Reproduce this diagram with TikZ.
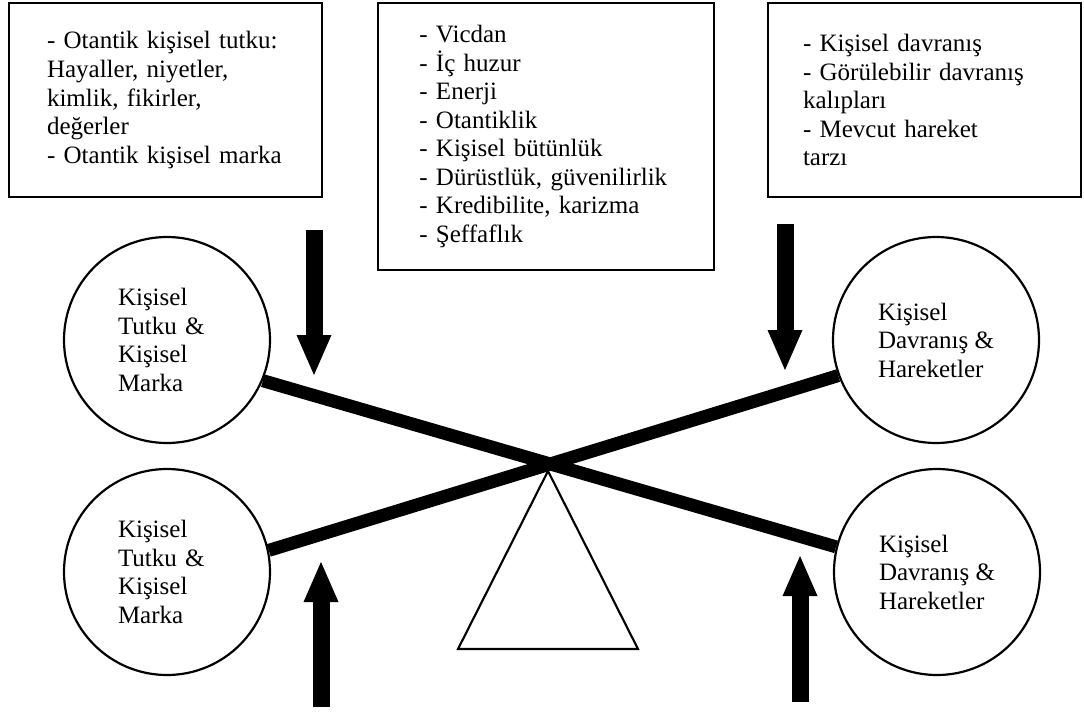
\documentclass[tikz,border=0pt]{standalone}
\usepackage{fontspec}
\setmainfont{Liberation Serif}
\usetikzlibrary{arrows.meta}

\tikzset{every picture/.style={line width=0.75pt}}
\tikzset{
  bodytext/.style={font=\fontsize{18.75pt}{21.4pt}\selectfont},
  infobox/.style={draw, rectangle, line width=1.9pt, inner sep=0pt, align=left, bodytext},
  pan/.style={draw, circle, fill=white, line width=1.65pt, minimum size=154.5pt, inner sep=0pt, align=left, bodytext},
  beam/.style={line width=9.75pt},
  push/.style={line width=12.75pt, -{Triangle[length=30pt,width=26.25pt,line width=0pt]}},
  fulcrum/.style={line width=1.6pt, line join=miter}
}

\begin{document}
\begin{tikzpicture}[x=0.75pt,y=0.75pt,yscale=-1,xscale=1]
\useasboundingbox (0,0) rectangle (1084,713);

%Box: passion
\node[infobox, minimum width=234.75pt, minimum height=145.5pt, text width=177.75pt] (passionBox) at (165.5,100)
  {- Otantik kişisel tutku:\\Hayaller, niyetler,\\kimlik, fikirler,\\değerler\\- Otantik kişisel marka};
%Box: values
\node[infobox, minimum width=252pt, minimum height=200.25pt, text width=190pt] (valueBox) at (546,136.5)
  {- Vicdan\\- İç huzur\\- Enerji\\- Otantiklik\\- Kişisel bütünlük\\- Dürüstlük, güvenilirlik\\- Kredibilite, karizma\\- Şeffaflık};
%Box: behaviour
\node[infobox, minimum width=234.75pt, minimum height=145.5pt, text width=182.25pt] (actionBox) at (924.5,100)
  {- Kişisel davranış\\- Görülebilir davranış\\kalıpları\\- Mevcut hareket\\tarzı};

%Circles
\node[pan, text width=73.5pt] (passionTop) at (167,340) {Kişisel\\Tutku \&\\Kişisel\\Marka};
\node[pan] (actionTop) at (936,340) {Kişisel\\Davranış \&\\Hareketler};
\node[pan, text width=73.5pt] (passionBot) at (167,572) {Kişisel\\Tutku \&\\Kişisel\\Marka};
\node[pan] (actionBot) at (937,572) {Kişisel\\Davranış \&\\Hareketler};

%Beams
\draw[beam] (passionTop.-23) -- (actionBot.166);
\draw[beam] (passionBot.12.5) -- (actionTop.-160.5);

%Shape: Triangle
\draw[fulcrum] (548,471) -- (638,649) -- (458,649) -- cycle;

%Arrows
\coordinate (pushTLa) at (314,230);
\coordinate (pushTLb) at (314,375);
\coordinate (pushTRa) at (785,224);
\coordinate (pushTRb) at (785,370);
\coordinate (pushBLa) at (321,707);
\coordinate (pushBLb) at (321,562);
\coordinate (pushBRa) at (800,702);
\coordinate (pushBRb) at (800,556);
\draw[push] (pushTLa) -- (pushTLb);
\draw[push] (pushTRa) -- (pushTRb);
\draw[push] (pushBLa) -- (pushBLb);
\draw[push] (pushBRa) -- (pushBRb);

\end{tikzpicture}
\end{document}
